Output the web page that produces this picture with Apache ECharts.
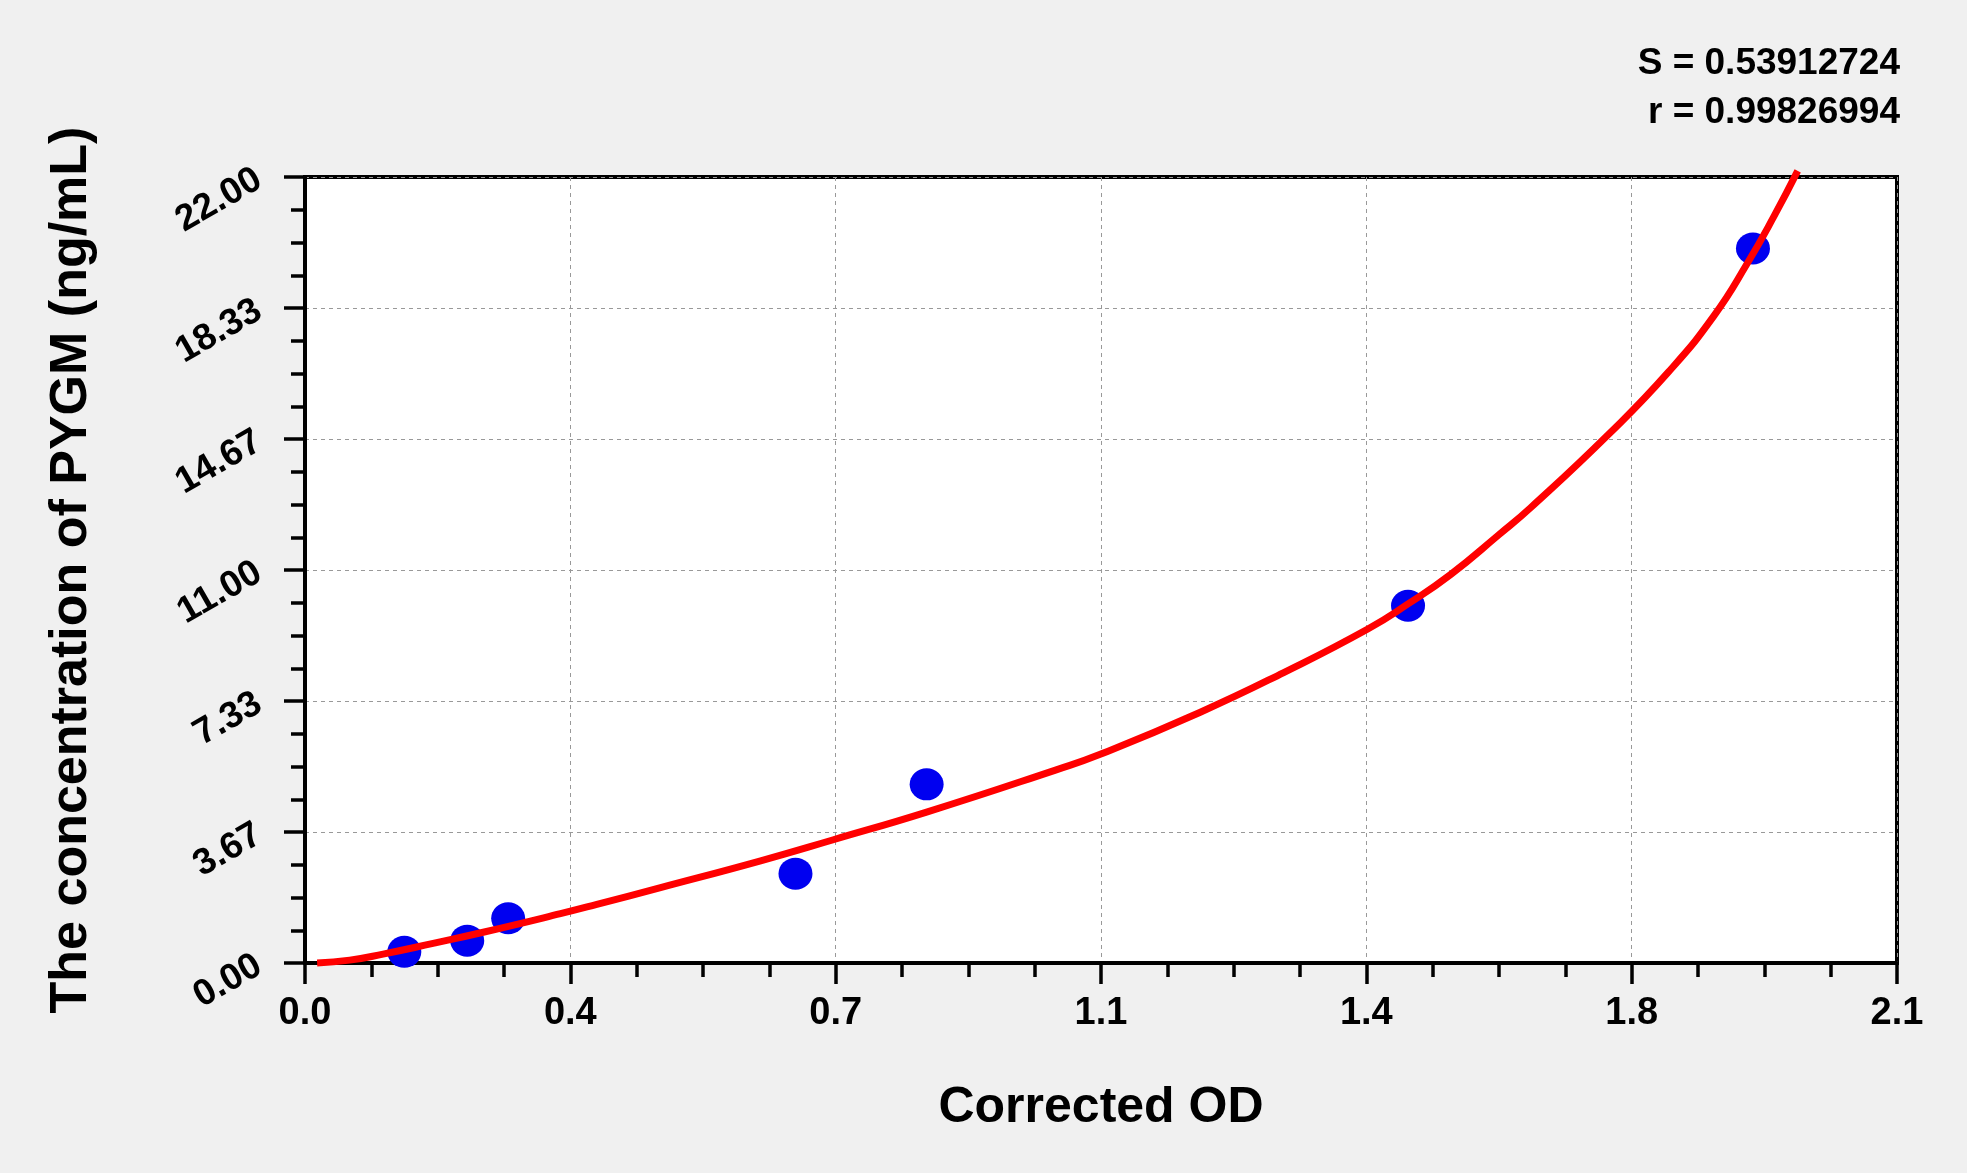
<!DOCTYPE html>
<html>
<head>
<meta charset="utf-8">
<title>PYGM standard curve</title>
<script src="https://cdn.jsdelivr.net/npm/echarts@6/dist/echarts.min.js"></script>
<style>
  html, body { margin: 0; padding: 0; background: #f0f0f0; }
  #chart { width: 1967px; height: 1173px; }
</style>
</head>
<body>
<div id="chart"></div>
<script>
// standard points (corrected OD, concentration ng/mL)
var stdOD = [0.131, 0.214, 0.268, 0.647, 0.820, 1.455, 1.910];
var stdConc = [0.3125, 0.625, 1.25, 2.5, 5, 10, 20];

// fitted curve
var curveOD = [0.016, 0.059, 0.103, 0.169, 0.235, 0.337, 0.385, 0.469, 0.601, 0.697, 0.821, 0.990,
  1.049, 1.181, 1.291, 1.402, 1.455, 1.511, 1.575, 1.617, 1.722, 1.798, 1.858, 1.903, 1.938, 1.969];
var curveConc = [0.00, 0.08, 0.25, 0.55, 0.86, 1.38, 1.64, 2.11, 2.86, 3.45, 4.23, 5.40,
  5.84, 7.02, 8.13, 9.35, 10.05, 10.87, 11.99, 12.75, 14.85, 16.53, 18.10, 19.60, 20.91, 22.17];

// tick labels as printed
var xTickLabels = ['0.0', '0.4', '0.7', '1.1', '1.4', '1.8', '2.1'];
var yTickLabels = ['0.00', '3.67', '7.33', '11.00', '14.67', '18.33', '22.00'];

var statS = 'S = 0.53912724';
var statR = 'r = 0.99826994';

var font = "'Liberation Sans', Arial, sans-serif";

function pairs(xs, ys) {
  var out = [];
  for (var i = 0; i < xs.length; i++) out.push([xs[i], ys[i]]);
  return out;
}

var chart = echarts.init(document.getElementById('chart'));

var axisCommon = {
  axisLine: { show: true, lineStyle: { color: '#000', width: 4 } },
  axisTick: { show: true, inside: false, length: 21, lineStyle: { color: '#000', width: 3.5 } },
  minorTick: { show: true, splitNumber: 4, length: 14, lineStyle: { color: '#000', width: 3.5 } },
  splitLine: { show: true, lineStyle: { color: '#999', width: 1, type: [4, 4] } },
  nameTextStyle: { color: '#000', fontFamily: font, fontWeight: 'bold', fontSize: 50 }
};

var option = {
  backgroundColor: '#f0f0f0',
  animation: false,
  grid: {
    left: 305, top: 177, right: 70, bottom: 210,
    show: true, backgroundColor: '#fff', borderColor: '#000', borderWidth: 4
  },
  xAxis: Object.assign({}, axisCommon, {
    type: 'value',
    min: 0, max: 2.1, interval: 0.35,
    name: 'Corrected OD',
    nameLocation: 'middle',
    nameGap: 120,
    axisLabel: {
      margin: 32, color: '#000', fontFamily: font, fontWeight: 'bold', fontSize: 38,
      formatter: function (v) { return xTickLabels[Math.round(v / 0.35)]; }
    }
  }),
  yAxis: Object.assign({}, axisCommon, {
    type: 'value',
    min: 0, max: 22, interval: 22 / 6,
    name: 'The concentration of PYGM (ng/mL)',
    nameLocation: 'middle',
    nameGap: 207,
    nameTextStyle: { color: '#000', fontFamily: font, fontWeight: 'bold', fontSize: 52 },
    axisLabel: {
      margin: 46, rotate: 30, color: '#000', fontFamily: font, fontWeight: 'bold', fontSize: 37,
      formatter: function (v) { return yTickLabels[Math.round(v / (22 / 6))]; }
    }
  }),
  graphic: [
    {
      type: 'text', right: 67, top: 45,
      style: { text: statS, fill: '#000', font: 'bold 37px ' + font, textAlign: 'right' }
    },
    {
      type: 'text', right: 67, top: 94,
      style: { text: statR, fill: '#000', font: 'bold 37px ' + font, textAlign: 'right' }
    }
  ],
  series: [
    {
      type: 'scatter',
      data: pairs(stdOD, stdConc),
      symbol: 'circle',
      symbolSize: [34, 32],
      itemStyle: { color: '#0000f0', opacity: 1 },
      z: 2
    },
    {
      type: 'line',
      data: pairs(curveOD, curveConc),
      smooth: 0.5,
      showSymbol: false,
      clip: false,
      lineStyle: { color: '#ff0000', width: 7 },
      z: 3
    }
  ]
};

chart.setOption(option);
</script>
</body>
</html>
